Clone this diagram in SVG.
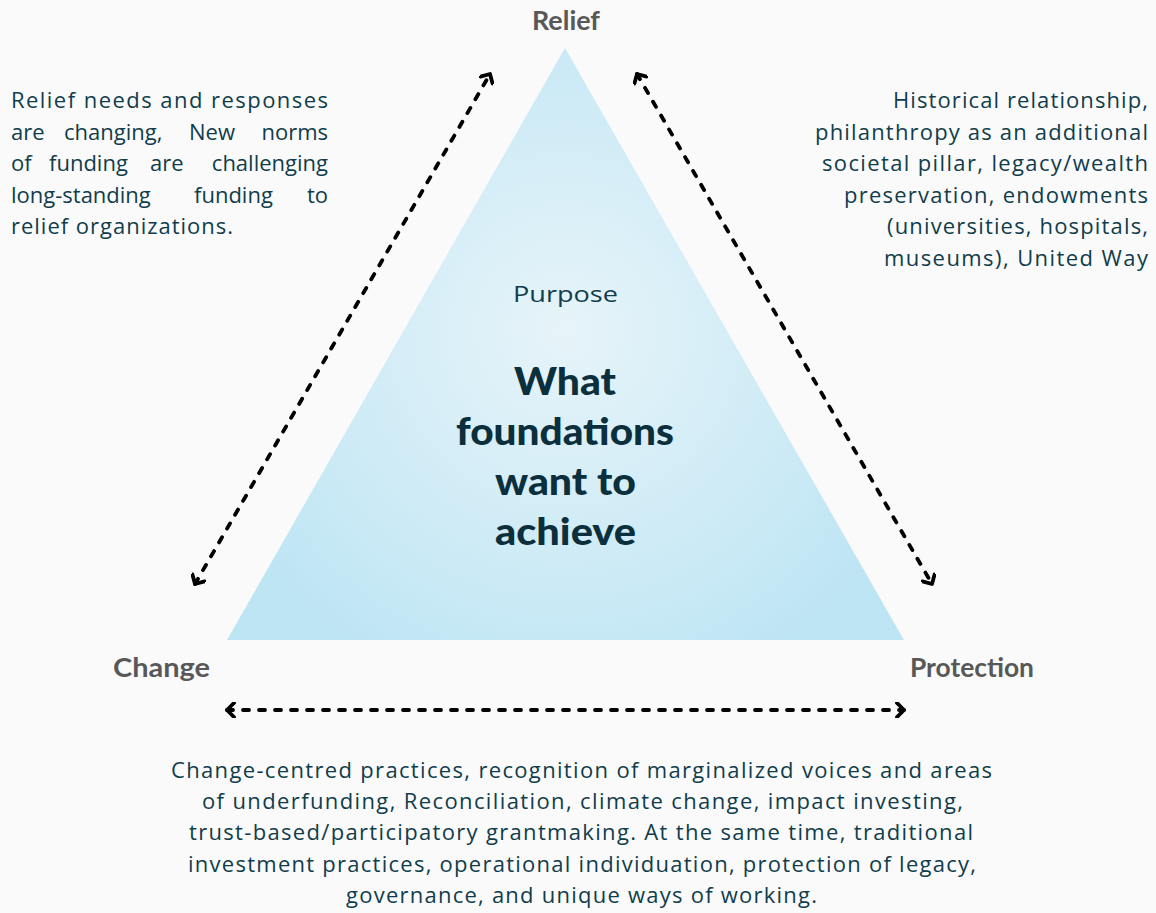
<svg xmlns="http://www.w3.org/2000/svg" width="1156" height="913" viewBox="0 0 1156 913">
<defs>
<radialGradient id="tri" cx="565" cy="330" r="380" gradientUnits="userSpaceOnUse">
<stop offset="0" stop-color="#e7f4f9"/>
<stop offset="1" stop-color="#bee5f4"/>
</radialGradient>
<marker id="ah" viewBox="0 0 16 16" refX="12" refY="8" markerWidth="16" markerHeight="16" markerUnits="userSpaceOnUse" orient="auto-start-reverse">
<path d="M5,1 L12,8 L5,15" fill="none" stroke="#000" stroke-width="3.8" stroke-linecap="round" stroke-linejoin="round"/>
</marker>
<style>
.body{font-family:"Open Sans","Liberation Sans",sans-serif;font-size:22px;fill:#103d4c}
.lbl{font-family:"Lato","Liberation Sans",sans-serif;font-weight:bold;font-size:26px;fill:#585858}
.title{font-family:"Lato","Liberation Sans",sans-serif;font-weight:900;font-size:38px;fill:#0b2f3c}
.conn{fill:none;stroke:#000;stroke-width:3.8;stroke-linecap:round;stroke-dasharray:6 10;marker-start:url(#ah);marker-end:url(#ah)}
</style>
</defs>
<rect width="1156" height="913" fill="#fafafa"/>
<g id="purpose">
<polygon points="565,48 904,640 227,640" fill="url(#tri)"/>
<text class="body" x="513" y="302" textLength="105" lengthAdjust="spacingAndGlyphs">Purpose</text>
<text class="title" x="514" y="395" textLength="102" lengthAdjust="spacingAndGlyphs">What</text>
<text class="title" x="456" y="445" textLength="218" lengthAdjust="spacingAndGlyphs">foundations</text>
<text class="title" x="495" y="495" textLength="141" lengthAdjust="spacingAndGlyphs">want to</text>
<text class="title" x="495" y="545" textLength="141" lengthAdjust="spacingAndGlyphs">achieve</text>
</g>
<g id="relief"><text class="lbl" x="532" y="30" textLength="68" lengthAdjust="spacingAndGlyphs">Relief</text></g>
<g id="change"><text class="lbl" x="113" y="677" textLength="97" lengthAdjust="spacingAndGlyphs">Change</text></g>
<g id="protection"><text class="lbl" x="910" y="677" textLength="124" lengthAdjust="spacingAndGlyphs">Protection</text></g>
<g id="connectors">
<line class="conn" x1="195" y1="584" x2="490" y2="74"/>
<line class="conn" x1="637" y1="74" x2="932" y2="584"/>
<line class="conn" x1="227" y1="710" x2="904" y2="710"/>
</g>
<g id="relief-note">
<text class="body" x="11" y="108" textLength="317">Relief needs and responses</text>
<text class="body" y="140"><tspan x="11">are</tspan><tspan x="64">changing,</tspan><tspan x="189">New</tspan></text>
<text class="body" x="328" y="140" text-anchor="end">norms</text>
<text class="body" y="171"><tspan x="11">of</tspan><tspan x="49">funding</tspan><tspan x="150">are</tspan></text>
<text class="body" x="328" y="171" text-anchor="end">challenging</text>
<text class="body" y="203"><tspan x="11">long-standing</tspan><tspan x="194">funding</tspan></text>
<text class="body" x="328" y="203" text-anchor="end">to</text>
<text class="body" x="11" y="234" textLength="222">relief organizations.</text>
</g>
<g id="protection-note">
<text class="body" x="893" y="108" textLength="255">Historical relationship,</text>
<text class="body" x="815" y="140" textLength="333">philanthropy as an additional</text>
<text class="body" x="822" y="171" textLength="326">societal pillar, legacy/wealth</text>
<text class="body" x="844" y="203" textLength="304">preservation, endowments</text>
<text class="body" x="887" y="234" textLength="261">(universities, hospitals,</text>
<text class="body" x="884" y="266" textLength="264">museums), United Way</text>
</g>
<g id="change-note">
<text class="body" x="171" y="778" textLength="821">Change-centred practices, recognition of marginalized voices and areas</text>
<text class="body" x="202" y="809" textLength="761">of underfunding, Reconciliation, climate change, impact investing,</text>
<text class="body" x="189" y="840" textLength="784">trust-based/participatory grantmaking. At the same time, traditional</text>
<text class="body" x="188" y="872" textLength="788">investment practices, operational individuation, protection of legacy,</text>
<text class="body" x="346" y="903" textLength="471">governance, and unique ways of working.</text>
</g>
</svg>
